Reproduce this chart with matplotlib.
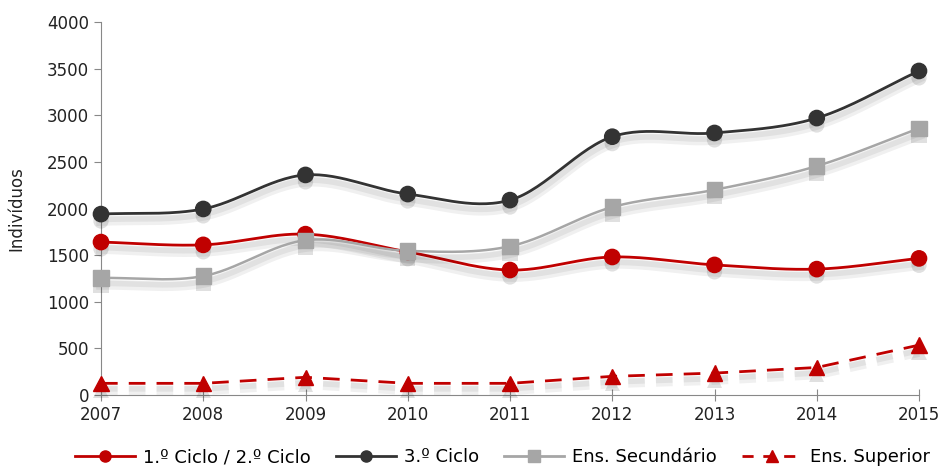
import numpy as np
import matplotlib
matplotlib.use("Agg")
import matplotlib.pyplot as plt
import matplotlib.patheffects as pe
from matplotlib.lines import Line2D

plt.rcParams['font.family'] = ['DejaVu Sans']

years = [2007, 2008, 2009, 2010, 2011, 2012, 2013, 2014, 2015]
ciclo12 = [1640, 1610, 1725, 1535, 1340, 1480, 1395, 1350, 1465]
ciclo3 = [1940, 1995, 2360, 2155, 2090, 2770, 2810, 2970, 3475]
secundario = [1255, 1275, 1660, 1545, 1595, 2015, 2200, 2455, 2860]
superior = [125, 125, 190, 125, 125, 200, 235, 295, 535]

labels = ['1.º Ciclo / 2.º Ciclo', '3.º Ciclo', 'Ens. Secundário', 'Ens. Superior']
y_ticks = [0, 500, 1000, 1500, 2000, 2500, 3000, 3500, 4000]


def smooth(x, y, n=30):
    x = np.asarray(x, float); y = np.asarray(y, float)
    px = np.concatenate([[2 * x[0] - x[1]], x, [2 * x[-1] - x[-2]]])
    py = np.concatenate([[2 * y[0] - y[1]], y, [2 * y[-1] - y[-2]]])
    xs, ys = [], []
    for i in range(1, len(px) - 2):
        t = np.linspace(0, 1, n, endpoint=False)
        for arr, out in ((px, xs), (py, ys)):
            p0, p1, p2, p3 = arr[i - 1], arr[i], arr[i + 1], arr[i + 2]
            out.extend(0.5 * ((2 * p1) + (-p0 + p2) * t + (2 * p0 - 5 * p1 + 4 * p2 - p3) * t ** 2
                              + (-p0 + 3 * p1 - 3 * p2 + p3) * t ** 3))
    xs.append(x[-1]); ys.append(y[-1])
    return np.array(xs), np.array(ys)


fig = plt.figure(figsize=(9.43, 4.68), dpi=100)
ax = fig.add_axes([101 / 943, 1 - 395 / 468, (919 - 101) / 943, (395 - 22) / 468])

shadow = [pe.SimpleLineShadow(offset=(0, -5), shadow_color='k', alpha=0.06, linewidth=7),
          pe.SimpleLineShadow(offset=(0, -4), shadow_color='k', alpha=0.06, linewidth=4),
          pe.Normal()]
mshadow = [pe.SimplePatchShadow(offset=(0, -5), shadow_rgbFace='k', alpha=0.12), pe.Normal()]

series = [
    (ciclo12, '#C00000', 'o', '-', True),
    (ciclo3, '#333333', 'o', '-', True),
    (secundario, '#A6A6A6', 's', '-', True),
    (superior, '#C00000', '^', (0, (6, 4)), False),
]
handles = []
for (vals, col, mk, ls, sm), lab in zip(series, labels):
    if sm:
        sx, sy = smooth(years, vals)
    else:
        sx, sy = np.array(years, float), np.array(vals, float)
    ax.plot(sx, sy, color=col, lw=2 if col != '#A6A6A6' else 1.8, linestyle=ls, clip_on=False,
            path_effects=shadow, zorder=2)
    ax.plot(years, vals, linestyle='none', marker=mk, markersize=11, color=col,
            markeredgecolor=col, clip_on=False, path_effects=mshadow, zorder=3)
    handles.append(Line2D([0], [0], color=col, lw=2, linestyle=ls if ls == '-' else (0, (4, 3.5)),
                          marker=mk, markersize=8, label=lab))

ax.set_xlim(2007, 2015)
ax.set_ylim(0, 4000)
ax.set_xticks(years)
ax.set_yticks(y_ticks)
ax.tick_params(axis='both', labelsize=12, colors='#222222', length=5, color='#888888')
ax.tick_params(axis='x', direction='inout', length=8, pad=4)
for s in ['top', 'right']:
    ax.spines[s].set_visible(False)
for s in ['left', 'bottom']:
    ax.spines[s].set_color('#888888')
ax.set_ylabel('Indivíduos', fontsize=12, color='#222222')
ax.yaxis.set_label_coords(-0.092, 0.5)

fig.legend(handles=handles, loc='center', bbox_to_anchor=(0.533, 1 - 457 / 468), ncol=4,
           frameon=False, fontsize=13, handlelength=3.3, columnspacing=1.4, handletextpad=0.45)

fig.savefig('out.png', dpi=100)
